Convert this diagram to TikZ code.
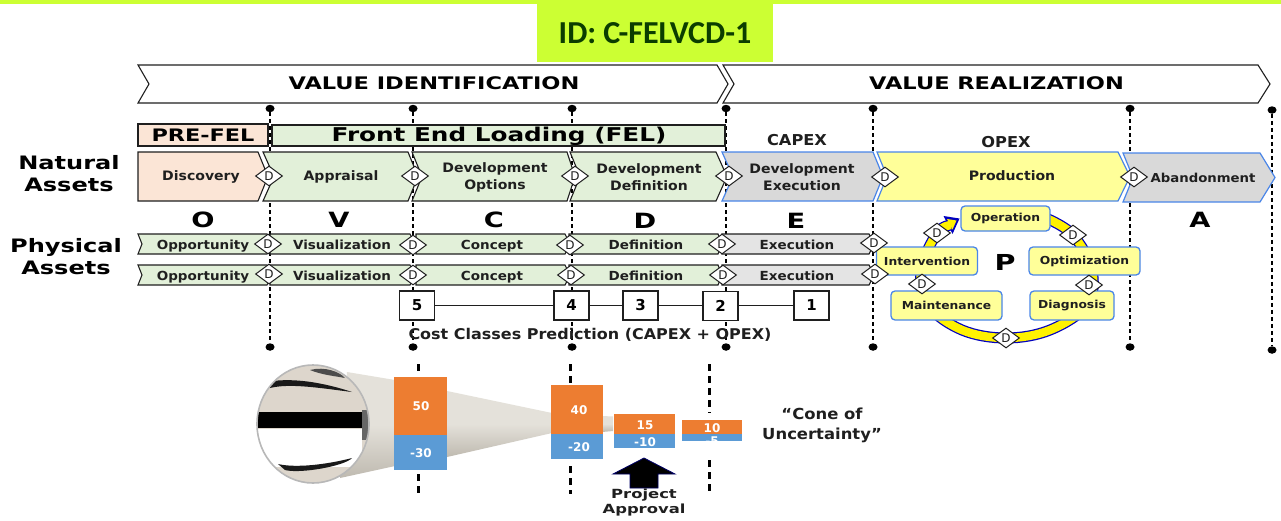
\documentclass[tikz,border=0pt]{standalone}
\usepackage{fontspec}
\setmainfont{DejaVu Sans}
\newfontfamily\fwb[FakeStretch=1.3]{DejaVu Sans}
\newfontfamily\fmb[FakeStretch=1.12]{DejaVu Sans}
\newfontfamily\fwr[FakeStretch=1.08]{DejaVu Sans}
\newfontfamily\fcal{Carlito}
\usetikzlibrary{shapes.geometric,calc}
\definecolor{lime}{HTML}{CCFF33}
\definecolor{peach}{HTML}{FBE5D6}
\definecolor{lgreen}{HTML}{E2F0D9}
\definecolor{lgray}{HTML}{D9D9D9}
\definecolor{xgray}{HTML}{E4E4E4}
\definecolor{lyellow}{HTML}{FFFF99}
\definecolor{bblue}{HTML}{4A86E8}
\definecolor{orng}{HTML}{ED7D31}
\definecolor{sky}{HTML}{5B9BD5}
\definecolor{ink}{HTML}{1F1F1F}
\definecolor{idgreen}{HTML}{0B3D00}
\definecolor{conea}{HTML}{BFBAB0}
\definecolor{coneb}{HTML}{E4E1DA}
\definecolor{conec}{HTML}{DDD6CC}
\tikzset{
  x=1pt,y=-1pt,
  dot/.style={ellipse,fill=black,inner sep=0pt,minimum width=9pt,minimum height=7.5pt},
  vdash/.style={draw=black,line width=1.1pt,dash pattern=on 4pt off 3pt},
  thickdash/.style={draw=black,line width=3pt,dash pattern=on 7pt off 5pt},
  dmd/.style={diamond,draw=ink,fill=white,line width=1pt,inner sep=0pt,aspect=1.4,minimum width=27pt,minimum height=20pt,font=\fontsize{12}{12}\selectfont,text=ink},
  proc/.style={rectangle,rounded corners=4pt,draw=bblue,fill=lyellow,line width=1.3pt,inner sep=0pt,font=\fmb\bfseries\fontsize{11}{11}\selectfont,text=ink},
  numbox/.style={rectangle,draw=ink,fill=white,line width=1.2pt,inner sep=0pt,minimum width=35pt,minimum height=29pt,font=\bfseries\fontsize{15}{15}\selectfont},
  chev/.style={draw=ink,line width=1.1pt},
  chevb/.style={draw=bblue,line width=1.2pt},
  lab/.style={font=\fwr\bfseries\fontsize{13}{17}\selectfont,text=ink,align=center,inner sep=0pt},
  plab/.style={font=\fwr\bfseries\fontsize{12.5}{13}\selectfont,text=ink,inner sep=0pt,anchor=base},
  big/.style={font=\fwb\bfseries\fontsize{17.3}{18}\selectfont,inner sep=0pt,align=center},
  phase/.style={font=\fwb\bfseries\fontsize{21}{21}\selectfont,inner sep=0pt},
  side/.style={font=\fwb\bfseries\fontsize{18.5}{22.5}\selectfont,inner sep=0pt,align=center},
  barlab/.style={font=\bfseries\fontsize{12}{12}\selectfont,text=white,inner sep=0pt},
}
\newcommand{\chevshape}[7]{\path[#1] (#2,#6) -- (#4,#6) -- (#5,{(#6+#7)/2}) -- (#4,#7) -- (#2,#7) -- (#3,{(#6+#7)/2}) -- cycle;}
\newcommand{\pentshape}[6]{\path[#1] (#2,#5) -- (#3,#5) -- (#4,{(#5+#6)/2}) -- (#3,#6) -- (#2,#6) -- cycle;}
\begin{document}
\begin{tikzpicture}
\useasboundingbox (0,0) rectangle (1281,520);
\fill[white] (0,0) rectangle (1281,520);
\fill[lime] (0,0) rectangle (1281,3.5);
\node[fill=lime,minimum width=236pt,minimum height=58pt,inner sep=0pt,font=\fcal\bfseries\fontsize{32}{32}\selectfont,text=idgreen] (idbox) at (655,33) {ID: C-FELVCD-1};
% value chevrons
\chevshape{chev,fill=white}{138}{149}{717}{728}{65}{103}
\chevshape{chev,fill=white}{723}{734}{1258}{1270}{65}{103}
\node[big] (vi) at (434,83.5) {VALUE IDENTIFICATION};
\node[big] (vr) at (996.5,83.5) {VALUE REALIZATION};
% dots and dashed lines
\foreach \n/\x/\yt/\yb in {a/270/108.5/347,b/413/108.5/347,c/572/108.5/347,d/726/108.5/347,e/873/108.5/347,f/1130/108.5/347,g/1272/110/350}{
  \node[dot] (\n t) at (\x,\yt) {};
  \node[dot] (\n b) at (\x,\yb) {};
  \draw[vdash] (\n t) -- (\n b);
}
% FEL bars
\node[draw=ink,fill=peach,line width=1.1pt,minimum width=130pt,minimum height=22pt,inner sep=0pt,font=\fwb\bfseries\fontsize{17.2}{17}\selectfont] (pre) at (203,135) {PRE-FEL};
\node[draw=ink,fill=lgreen,line width=1.1pt,minimum width=453pt,minimum height=21pt,inner sep=0pt] (fel) at (498.5,135.5) {};
\node[inner sep=0pt,font=\fwb\bfseries\fontsize{19}{19}\selectfont] (feltxt) at (499,136) {Front End Loading (FEL)};
\node[inner sep=0pt,font=\fwr\bfseries\fontsize{15}{15}\selectfont,text=ink] (capex) at (797,140.5) {CAPEX};
\node[inner sep=0pt,font=\fwr\bfseries\fontsize{15}{15}\selectfont,text=ink] (opex) at (1006,142) {OPEX};
% natural row
\pentshape{chev,fill=peach}{138}{258}{268}{152}{201}
\chevshape{chev,fill=lgreen}{263}{274}{408}{418}{152}{201}
\chevshape{chev,fill=lgreen}{412}{422}{567}{575}{152}{201}
\chevshape{chev,fill=lgreen}{570}{580}{716}{727}{152}{201}
\chevshape{chevb,fill=lgray}{722}{733}{873}{883}{152}{201}
\chevshape{chevb,fill=lyellow}{877}{887}{1118}{1130}{152}{201}
\chevshape{chevb,fill=lgray}{1123}{1133}{1260}{1275}{153}{202}
\node[lab] (n1) at (201,177) {Discovery};
\node[lab] (n2) at (341,177) {Appraisal};
\node[lab] (n3) at (495,177) {Development\\Options};
\node[lab] (n4) at (649,177) {Development\\Definition};
\node[lab] (n5) at (802,177) {Development\\Execution};
\node[lab] (n6) at (1012,176) {Production};
\node[lab,font=\fwr\bfseries\fontsize{12.3}{13}\selectfont] (n7) at (1203,178) {Abandonment};
% side labels
\node[side] (natural) at (69,173.5) {Natural\\Assets};
\node[side] (physical) at (66,256.5) {Physical\\Assets};
% letters
\node[phase] (lo) at (203,220) {O};
\node[phase] (lv) at (339,220) {V};
\node[phase] (lc) at (494,220) {C};
\node[phase] (ld) at (645,221) {D};
\node[phase] (le) at (796,221) {E};
\node[phase] (la) at (1200,220) {A};
% physical rows
\foreach \ya/\yb in {234/254,265/285}{
  \chevshape{chev,fill=lgreen}{138}{142}{267}{272}{\ya}{\yb}
  \chevshape{chev,fill=lgreen}{270}{270}{410}{415}{\ya}{\yb}
  \chevshape{chev,fill=lgreen}{416}{416}{565}{570}{\ya}{\yb}
  \chevshape{chev,fill=lgreen}{569}{569}{718}{722}{\ya}{\yb}
  \chevshape{chev,fill=xgray}{722}{722}{869}{874}{\ya}{\yb}
}
\foreach \n/\x/\t in {p1/203/Opportunity,p2/342/Visualization,p3/492/Concept,p4/646/Definition,p5/797/Execution}{
  \node[plab] (\n a) at (\x,249) {\t};
  \node[plab] (\n b) at (\x,280) {\t};
}
% number boxes
\node[numbox] (c5) at (417,305.5) {5};
\node[numbox] (c4) at (571.5,305.5) {4};
\node[numbox] (c3) at (640.5,305.5) {3};
\node[numbox] (c2) at (720.5,306) {2};
\node[numbox] (c1) at (811.5,305.5) {1};
\draw[ink,line width=1pt] (c5) -- (c4);
\draw[ink,line width=1pt] (c4) -- (c3);
\draw[ink,line width=1pt] (c3) -- (c3 -| c2.west);
\draw[ink,line width=1pt] (c1 -| c2.east) -- (c1);
\node[font=\fwr\bfseries\fontsize{14.8}{15}\selectfont,text=ink,inner sep=0pt] (cost) at (590,334.5) {Cost Classes Prediction (CAPEX + OPEX)};
% ring
\def\ringpath{plot[smooth,tension=.6] coordinates {(1048,219) (1073,235) (1092,270) (1087,305) (1050,330) (1006,338) (962,330) (928,305) (921,270) (937,233) (951,225)}}
\draw[blue!75!black,line width=11pt] \ringpath;
\path[fill=blue!75!black] (959.5,218.5) -- (943.5,216) -- (952.5,234) -- cycle;
\draw[yellow,line width=8.5pt] \ringpath;
\path[fill=yellow] (956.5,220.5) -- (947,219) -- (952.5,229.5) -- cycle;
\node[inner sep=0pt,font=\fwb\bfseries\fontsize{22}{22}\selectfont] (lp) at (1005,262) {P};
\node[proc,minimum width=89pt,minimum height=25pt] (op) at (1005.5,218.5) {Operation};
\node[proc,minimum width=101pt,minimum height=28pt] (iv) at (927,261) {Intervention};
\node[proc,minimum width=111pt,minimum height=28pt] (oz) at (1084.5,261) {Optimization};
\node[proc,minimum width=111pt,minimum height=29pt] (mt) at (946.5,305.5) {Maintenance};
\node[proc,minimum width=84pt,minimum height=29pt] (dg) at (1072,305.5) {Diagnosis};
% decision diamonds
\foreach \n/\x/\y in {d1/269/176,d2/415/176,d3/575/176,d4/729/176,d5/885/177,d6/1134/177,
  e1/268/244,e2/413/245,e3/570/245,e4/722/244,e5/874/243,
  f1/269/274,f2/413/275,f3/571/275,f4/723/275,f5/875/274,
  r1/937/233,r2/1073/235,r3/922/284,r4/1089/285,r5/1006/338}{
  \node[dmd] (\n) at (\x,\y) {D};
}
% cone of uncertainty
\path[shade,top color=coneb,bottom color=conea,middle color=coneb] (347,372) -- (395,380) -- (395,466) -- (340,478) -- cycle;
\path[shade,top color=coneb,bottom color=conea,middle color=coneb] (447,391) -- (552,413) -- (552,433) -- (447,457) -- cycle;
\path[shade,top color=coneb,bottom color=conea,middle color=coneb] (602,416) -- (613,416.5) -- (613,431) -- (602,432) -- cycle;
\begin{scope}
  \clip (313,424) ellipse[x radius=56,y radius=59];
  \fill[conec] (250,360) rectangle (380,490);
  \fill[white] (250,429) rectangle (362,467);
  \fill[black] (258,412) rectangle (364,428);
  \fill[black!90] (262,383) .. controls (290,376) and (325,383) .. (352,392) .. controls (320,388) and (290,383) .. (270,388) -- cycle;
  \fill[black!70] (310,370) .. controls (325,366) and (340,372) .. (345,378) .. controls (335,376) and (322,375) .. (310,370) -- cycle;
  \fill[black!90] (278,464) .. controls (295,468) and (325,465) .. (352,458) .. controls (345,466) and (300,474) .. (285,470) -- cycle;
  \fill[black!60] (362,410) rectangle (372,440);
\end{scope}
\draw[black!28,line width=1.6pt] (313,424) ellipse[x radius=56,y radius=59];
% dashes over the cone
\coordinate (ka) at (418,364); \coordinate (kb) at (418,372);
\coordinate (kc) at (418,474); \coordinate (kd) at (418,494);
\coordinate (ke) at (570,364); \coordinate (kf) at (570,384);
\coordinate (kg) at (570,466); \coordinate (kh) at (570,494);
\coordinate (ki) at (709,364); \coordinate (kj) at (709,413);
\coordinate (kk) at (709,460); \coordinate (kl) at (709,494);
\draw[thickdash] (ka) -- (kb); \draw[thickdash] (kc) -- (kd);
\draw[thickdash] (ke) -- (kf); \draw[thickdash] (kg) -- (kh);
\draw[thickdash] (ki) -- (kj); \draw[thickdash] (kk) -- (kl);
% bars
\fill[orng] (394,377) rectangle (447,435);
\fill[sky] (394,435) rectangle (447,470);
\fill[orng] (551,385) rectangle (603,434);
\fill[sky] (551,434) rectangle (603,459);
\fill[orng] (614,414) rectangle (675,434);
\fill[sky] (614,434) rectangle (675,448);
\fill[orng] (682,420) rectangle (742,434);
\fill[sky] (682,434) rectangle (742,441);
\node[barlab] (b50) at (421,406) {50};
\node[barlab] (b30) at (421,453) {-30};
\node[barlab] (b40) at (579,410) {40};
\node[barlab] (b20) at (579,447) {-20};
\node[barlab] (b15) at (645,425) {15};
\node[barlab] (b10) at (645,442) {-10};
\node[barlab] (b10a) at (712,428.5) {10};
\begin{scope}
  \clip (682,434) rectangle (742,441);
  \node[barlab] (b5) at (712,441) {-5};
\end{scope}
% approval arrow
\path[fill=black,draw=blue!40!black,line width=.8pt] (644,458) -- (675,474) -- (658,474) -- (658,488) -- (630,488) -- (630,474) -- (613,474) -- cycle;
\node[font=\fwb\bfseries\fontsize{12.6}{15}\selectfont,align=center,text=ink,inner sep=0pt] (pa) at (644,503) {Project\\Approval};
\node[font=\fwr\bfseries\fontsize{15.2}{20}\selectfont,align=center,text=ink,inner sep=0pt] (cu) at (822,425) {“Cone of\\Uncertainty”};
\end{tikzpicture}
\end{document}
